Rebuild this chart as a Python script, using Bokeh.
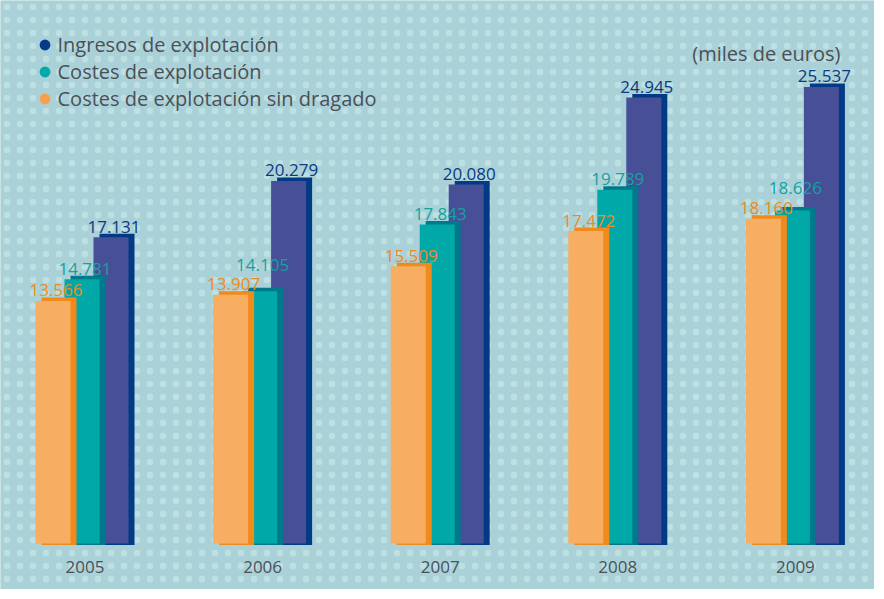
import math
from bokeh.plotting import figure
from bokeh.models import Range1d, BoxAnnotation, Label, Legend, LegendItem
from bokeh.core.properties import value
from bokeh.embed import file_html
from bokeh.resources import INLINE

# ---------------- data ----------------
years = ["2005", "2006", "2007", "2008", "2009"]
ingresos = [17.131, 20.279, 20.080, 24.945, 25.537]            # miles de euros (x1000)
costes = [14.781, 14.105, 17.843, 19.789, 18.626]
costes_sin_dragado = [13.566, 13.907, 15.509, 17.472, 18.160]
series_names = ["Ingresos de explotación", "Costes de explotación",
                "Costes de explotación sin dragado"]
unit_note = "(miles de euros)"

# ---------------- layout (pixels) ----------------
W, H = 874, 589
PX_X = 177.6      # px per year group
PX_Y = 17.88      # px per unit of value
BASE = 543        # baseline, px from frame top
G0 = 84.5         # first group centre, px from frame left
BW = 35           # bar width px
DX, DY = 6, 3.5   # shade offset px
GAP = 7           # label gap px
FONT = "Open Sans"
TEXT_GRAY = "#4b5058"
ROW = 27

p = figure(width=W, height=H, output_backend="svg", toolbar_location=None,
           x_range=Range1d(-G0 / PX_X, (W - G0) / PX_X),
           y_range=Range1d(-(H - BASE) / PX_Y, BASE / PX_Y),
           min_border=0, outline_line_color=None)
p.axis.visible = False
p.grid.visible = False
p.background_fill_color = "#aad2d8"
p.border_fill_color = "#aad2d8"

bg = BoxAnnotation(fill_color="#a9d1d7", fill_alpha=1.0, line_color=None,
                   hatch_pattern="dot", hatch_color="#bde0e3", hatch_scale=13,
                   hatch_weight=6, level="underlay")
p.add_layout(bg)

# series: values, front colour, shade colour, label colour, offset px (back to front)
series = [
    (ingresos, "#474f96", "#033a86", "#0b3a82", 26, {}),
    (costes, "#00a9a8", "#00798c", "#14a2a0", -3, {1: 16, 4: 12}),
    (costes_sin_dragado, "#f7ae63", "#f08a1a", "#f08a1e", -32, {}),
]

label_jobs = []
for vals, front, shade, lab_col, off, lift in series:
    xf = [i + off / PX_X for i in range(len(years))]
    xb = [x + DX / PX_X for x in xf]
    p.vbar(x=xb, top=[v + DY / PX_Y for v in vals], bottom=-1.5 / PX_Y,
           width=BW / PX_X, fill_color=shade, line_color=None)
    p.vbar(x=xf, top=vals, bottom=0, width=BW / PX_X,
           fill_color=front, line_color=None)
    xl = [x + (DX / 2) / PX_X for x in xf]
    yl = [v + (DY + GAP + lift.get(i, 0)) / PX_Y for i, v in enumerate(vals)]
    label_jobs.append((xl, yl, [f"{v:.3f}" for v in vals], lab_col))

for xl, yl, txt, col in label_jobs:
    p.text(x=xl, y=yl, text=txt, text_color=col, text_align="center",
           text_baseline="alphabetic", text_font=value(FONT),
           text_font_size="17px")

# year labels
p.text(x=list(range(len(years))), y=[-23 / PX_Y] * len(years), text=years,
       text_color=TEXT_GRAY, text_align="center", text_baseline="alphabetic",
       text_font=value(FONT), text_font_size="17px")

# legend (circle markers)
leg_colors = ["#063a8a", "#00aaa9", "#f6a04c"]
items = []
for name, col in zip(series_names, leg_colors):
    r = p.scatter(x=[math.nan], y=[math.nan], marker="circle", size=11,
                  fill_color=col, line_color=None)
    items.append(LegendItem(label=name, renderers=[r]))
legend_top = 30.5
legend = Legend(items=items, location=(30.5, H - legend_top - 3 * ROW),
                padding=0, margin=0,
                spacing=0, glyph_width=ROW, glyph_height=ROW, label_height=ROW,
                label_standoff=0,
                label_text_font=FONT, label_text_font_size="20px",
                label_text_color=TEXT_GRAY, background_fill_alpha=0,
                border_line_color=None)
p.add_layout(legend)

p.add_layout(Label(x=840, y=H - 53, x_units="screen", y_units="screen",
                   text=unit_note, text_align="right", text_baseline="alphabetic",
                   text_font=FONT, text_font_size="20px", text_color=TEXT_GRAY))

open("out.html", "w").write(file_html(p, INLINE))
